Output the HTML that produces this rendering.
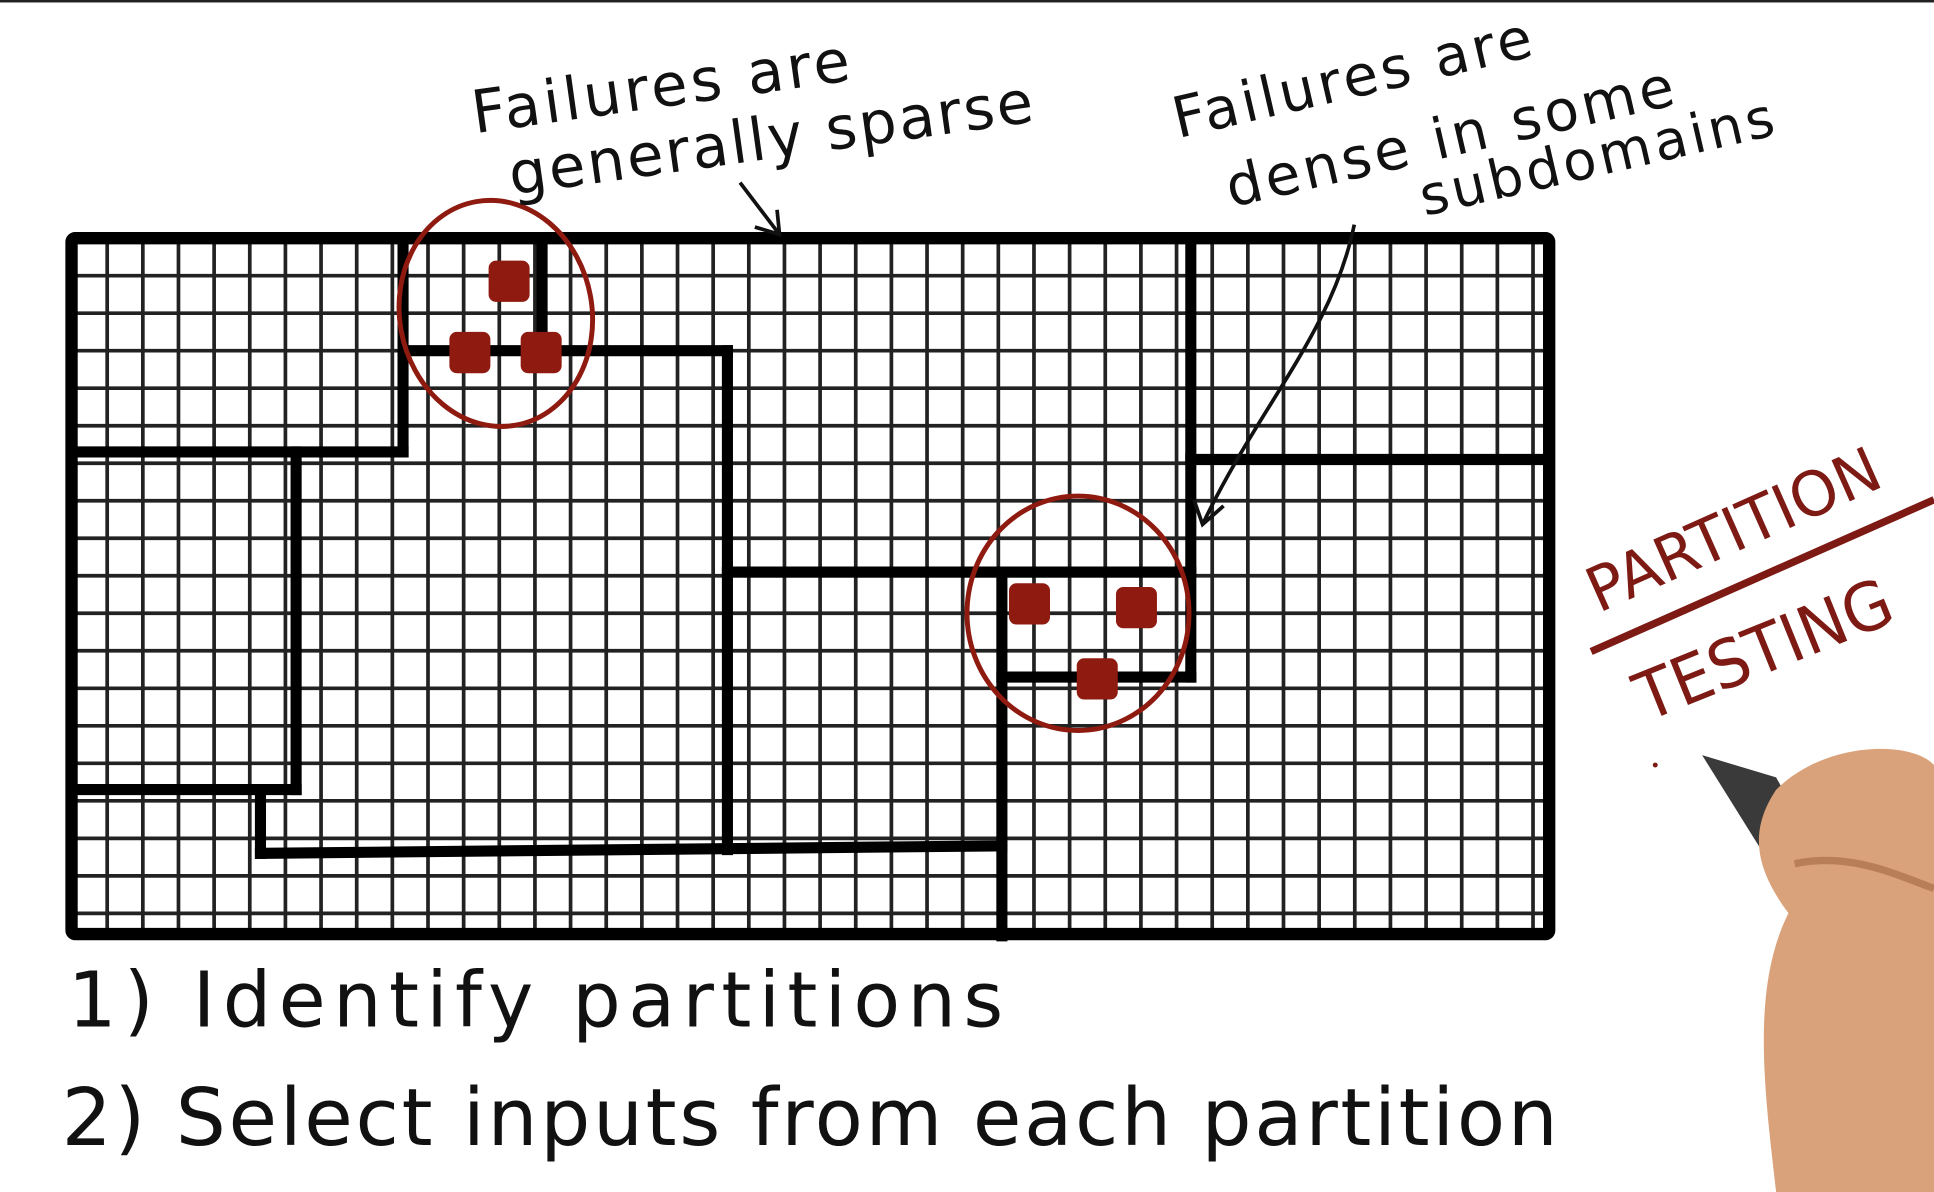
<!DOCTYPE html>
<html><head><meta charset="utf-8"><style>
html,body{margin:0;padding:0;background:#fff;width:1934px;height:1192px;overflow:hidden}
svg{display:block}
.hw{font-family:"DejaVu Sans","Liberation Sans",sans-serif;fill:#111}
.red{font-family:"DejaVu Sans","Liberation Sans",sans-serif;fill:#7e1a14}
</style></head><body>
<svg id="chart" width="1934" height="1192" viewBox="0 0 1568 966" preserveAspectRatio="none" xmlns="http://www.w3.org/2000/svg">
<rect x="0" y="0" width="1568" height="2" fill="#222"/>
<g id="grid"></g>
<g id="parts"></g>
<g id="fails"></g>
<ellipse cx="402" cy="254" rx="78" ry="92" fill="none" stroke="#8e1a10" stroke-width="4" transform="rotate(-10 402 254)"/>
<ellipse cx="874" cy="497" rx="90" ry="95" fill="none" stroke="#8e1a10" stroke-width="4"/>
<path d="M600 148 L632 190 M612 184 L632 190 L630 170" fill="none" stroke="#111" stroke-width="3"/>
<path d="M1098 182 C1080 270 1020 330 975 425 M968 405 L975 425 L992 410" fill="none" stroke="#111" stroke-width="3"/>
<text class="hw" x="385" y="108" font-size="48" transform="rotate(-8 385 108)" letter-spacing="3">Failures are</text>
<text class="hw" x="415" y="158" font-size="48" transform="rotate(-8 415 158)" letter-spacing="2">generally sparse</text>
<text class="hw" x="955" y="112" font-size="46" transform="rotate(-13 955 112)" letter-spacing="3">Failures are</text>
<text class="hw" x="998" y="168" font-size="46" transform="rotate(-13 998 168)" letter-spacing="3">dense in some</text>
<text class="hw" x="1155" y="175" font-size="44" transform="rotate(-13 1155 175)" letter-spacing="3">subdomains</text>
<text class="hw" x="55" y="832" font-size="62" letter-spacing="6">1) Identify partitions</text>
<text class="hw" x="50" y="928" font-size="64" letter-spacing="7" textLength="1220">2) Select inputs from each partition</text>
<text class="red" x="1296" y="497" font-size="50" textLength="255" lengthAdjust="spacingAndGlyphs" transform="rotate(-24 1296 497)">PARTITION</text>
<path d="M1290 528 L1568 405" stroke="#7e1a14" stroke-width="6" fill="none"/>
<text class="red" x="1335" y="585" font-size="54" textLength="220" lengthAdjust="spacingAndGlyphs" transform="rotate(-22 1335 585)">TESTING</text>
<g>
<path d="M1380 612 L1440 630 L1490 720 L1460 740 Z" fill="#3a3a3a"/>
<path d="M1440 640 C1480 600 1550 600 1568 620 L1568 966 L1440 966 C1430 880 1420 800 1450 740 C1420 700 1420 670 1440 640 Z" fill="#d9a27a"/>
<path d="M1455 700 C1500 690 1540 710 1568 720" stroke="#b87e58" stroke-width="6" fill="none"/>
</g>
<circle cx="1342" cy="620" r="2" fill="#7e1a14"/>
</svg>
<script>
const gridCols = 41;
const gridRows = 18.6;
const x0 = 58, y0 = 193, cellW = 28.9, cellH = 30.4, x1 = 1256, y1 = 757;
// partition segments [xa, ya, xb, yb] in grid cell units from top-left
const segments = [
 [9.3,0,9.3,5.7],[0,5.7,9.3,5.7],
 [13.2,0,13.2,3],[9.3,3,18.4,3],[18.4,3,18.4,16.3],
 [6.3,5.7,6.3,14.7],[0,14.7,6.3,14.7],[5.3,14.7,5.3,16.4],[5.3,16.4,26.1,16.2],
 [18.4,8.9,31.4,8.9],[31.4,0,31.4,11.7],[26.1,11.7,31.4,11.7],[26.1,8.9,26.1,18.6],
 [31.4,5.9,41.3,5.9]
];
const failCells = [[11.7,0.6],[10.6,2.5],[12.6,2.5],[26.3,9.2],[29.3,9.3],[28.2,11.2]];
const ns = "http://www.w3.org/2000/svg";
const sx = c => x0 + c * cellW, sy = r => y0 + r * cellH;
const g = document.getElementById('grid');
for (let i = 1; sx(i) < x1; i++) {
  const l = document.createElementNS(ns,'line');
  
  
  l.setAttribute('x1',sx(i));l.setAttribute('x2',sx(i));l.setAttribute('y1',y0);l.setAttribute('y2',y1);
  l.setAttribute('stroke','#222');l.setAttribute('stroke-width','3');g.appendChild(l);
}
for (let j = 1; sy(j) < y1; j++) {
  const l = document.createElementNS(ns,'line');
  
  
  l.setAttribute('x1',x0);l.setAttribute('x2',x1);l.setAttribute('y1',sy(j));l.setAttribute('y2',sy(j));
  l.setAttribute('stroke','#222');l.setAttribute('stroke-width','3');g.appendChild(l);
}
const b = document.createElementNS(ns,'rect');


b.setAttribute('x',x0);b.setAttribute('y',y0);b.setAttribute('width',x1-x0);b.setAttribute('height',y1-y0);
b.setAttribute('fill','none');b.setAttribute('stroke','#000');b.setAttribute('stroke-width','10');b.setAttribute('rx','3');
g.appendChild(b);
const p = document.getElementById('parts');
segments.forEach(s => {
  const l = document.createElementNS(ns,'line');
  
  
  l.setAttribute('x1',sx(s[0]));l.setAttribute('y1',sy(s[1]));l.setAttribute('x2',sx(s[2]));l.setAttribute('y2',sy(s[3]));
  l.setAttribute('stroke','#000');l.setAttribute('stroke-width','9');l.setAttribute('stroke-linecap','square');
  p.appendChild(l);
});
const f = document.getElementById('fails');
failCells.forEach(c => {
  const r = document.createElementNS(ns,'rect');
  
  
  r.setAttribute('x',sx(c[0]));r.setAttribute('y',sy(c[1]));r.setAttribute('width',cellW*1.15);r.setAttribute('height',cellH*1.1);
  r.setAttribute('rx','6');r.setAttribute('fill','#8e1a10');f.appendChild(r);
});
</script>
</body></html>
